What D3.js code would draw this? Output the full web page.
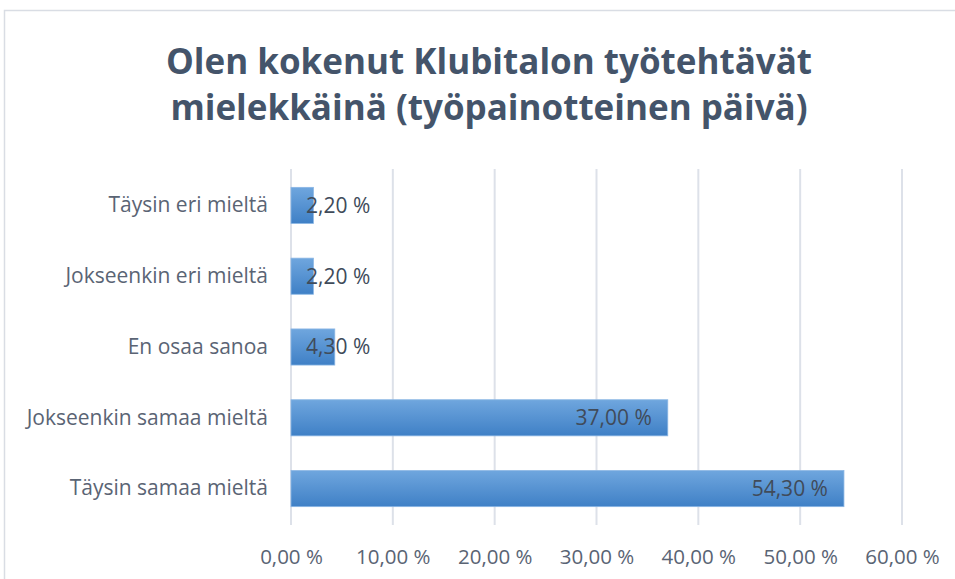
<!DOCTYPE html>
<html>
<head>
<meta charset="utf-8">
<script src="https://cdn.jsdelivr.net/npm/d3@7"></script>
<style>
  body { margin: 0; background: #fff; }
  svg { display: block; }
</style>
</head>
<body>
<svg width="955" height="579"></svg>
<script>
const categories = ["Täysin eri mieltä", "Jokseenkin eri mieltä", "En osaa sanoa", "Jokseenkin samaa mieltä", "Täysin samaa mieltä"];
const values = [2.2, 2.2, 4.3, 37.0, 54.3];
const ticks = [0, 10, 20, 30, 40, 50, 60];
const titleLines = ["Olen kokenut Klubitalon työtehtävät", "mielekkäinä (työpainotteinen päivä)"];

const svg = d3.select("svg");
const font = "'Open Sans', sans-serif";
const fmt = v => v.toFixed(2).replace(".", ",") + " %";

// chart frame
svg.append("rect")
  .attr("x", 4.5).attr("y", 10.5)
  .attr("width", 1000).attr("height", 600)
  .attr("fill", "none")
  .attr("stroke", "#d9dde4")
  .attr("stroke-width", 1.5);

const x = d3.scaleLinear().domain([0, 60]).range([291, 902]);
const y = d3.scaleBand().domain(categories).range([170, 524]).paddingInner(0.49).paddingOuter(0.245);

// title
svg.append("g").selectAll("text")
  .data(titleLines).enter()
  .append("text")
  .attr("x", 489)
  .attr("y", (d, i) => 74 + i * 46)
  .attr("text-anchor", "middle")
  .attr("font-family", font)
  .attr("font-weight", "bold")
  .attr("font-size", 35)
  .attr("fill", "#44546a")
  .text(d => d);

// gridlines
svg.append("g")
  .selectAll("line")
  .data(ticks).enter()
  .append("line")
  .attr("x1", d => x(d)).attr("x2", d => x(d))
  .attr("y1", 169).attr("y2", 525)
  .attr("stroke", "#dde1e9")
  .attr("stroke-width", 2);

// x axis labels
const xAxis = svg.append("g")
  .attr("transform", "translate(0,557)")
  .call(d3.axisBottom(x).tickValues(ticks).tickSize(0).tickPadding(0).tickFormat(fmt));
xAxis.select(".domain").remove();
xAxis.selectAll("text")
  .attr("font-family", font)
  .attr("font-size", 20.5)
  .attr("fill", "#5a6474")
  .attr("dy", "0.32em");

// category labels
const yAxis = svg.append("g")
  .attr("transform", "translate(268,0)")
  .call(d3.axisLeft(y).tickSize(0).tickPadding(0));
yAxis.select(".domain").remove();
yAxis.selectAll("text")
  .attr("font-family", font)
  .attr("font-size", 21)
  .attr("fill", "#5a6474");

// bar gradient
const grad = svg.append("defs").append("linearGradient")
  .attr("id", "barGrad")
  .attr("x1", 0).attr("y1", 0).attr("x2", 0).attr("y2", 1);
grad.append("stop").attr("offset", "0%").attr("stop-color", "#6fa6de");
grad.append("stop").attr("offset", "100%").attr("stop-color", "#3f80c6");

svg.append("g")
  .selectAll("rect")
  .data(values).enter()
  .append("rect")
  .attr("x", x(0))
  .attr("y", (d, i) => y(categories[i]))
  .attr("width", d => x(d) - x(0))
  .attr("height", y.bandwidth())
  .attr("fill", "url(#barGrad)")
  .attr("stroke", "#8ab6e4")
  .attr("stroke-width", 0.8);

// value labels
const labels = svg.append("g")
  .selectAll("text")
  .data(values).enter()
  .append("text")
  .attr("y", (d, i) => y(categories[i]) + y.bandwidth() / 2)
  .attr("dy", "0.35em")
  .attr("text-anchor", "end")
  .attr("font-family", font)
  .attr("font-size", 21)
  .attr("fill", "#404b5a")
  .text(fmt);
labels.attr("x", function (d) {
  const w = this.getComputedTextLength();
  return Math.max(x(d) - 16, x(0) + 15 + w);
});
</script>
</body>
</html>
